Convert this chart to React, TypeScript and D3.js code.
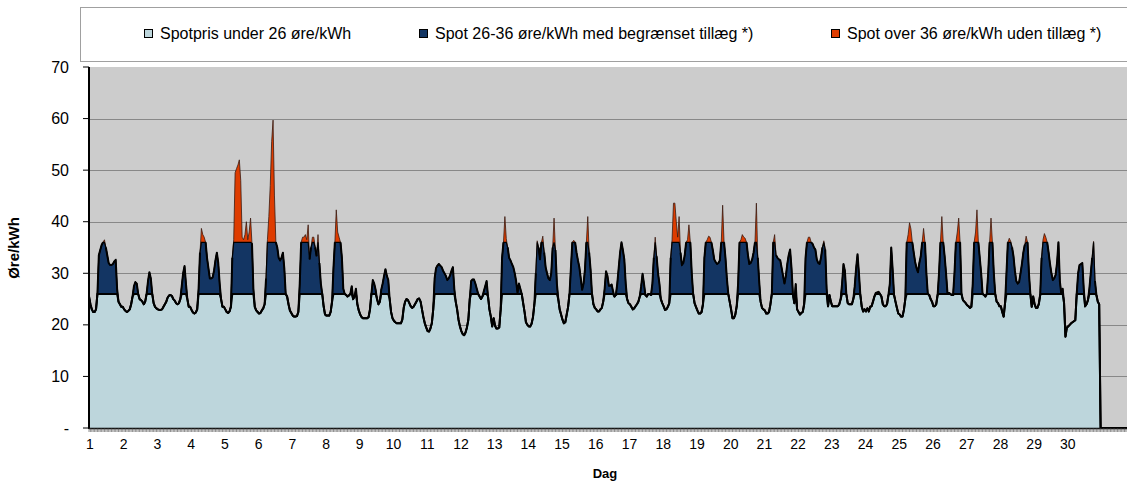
import React, { useEffect, useRef } from "react";
import * as d3 from "d3";

// hourly spot price (øre/kWh), one array per day of the month
const day01 = [25.5,24,23,22.5,22.5,23,26,33.5,34.5,35.5,36,36.5,35,33.5,32,31.6,31.6,31.8,32.3,32.6,27,24.5,24,23.5];
const day02 = [23.5,23,22.7,22.5,22.7,23,24,25.5,27.5,28.3,28,26,25,24.8,24.5,24,24.5,26,28.5,30.2,29,26,24.2,23.5];
const day03 = [23.2,23,22.9,22.9,23,23.5,24,24.5,25.3,25.7,25.8,25.6,25,24.7,24.2,24,24.2,25,27.5,30,31.4,28,25,23.5];
const day04 = [23.5,22.9,22.4,22.2,22.4,23,27,34,38.7,37.5,37,36,33,31,29,29,29.2,30.5,32.5,34,32,28,25,23.5];
const day05 = [23.5,23,22.5,22.3,22.6,23.5,33,36.5,49.5,50.3,51,52,48,37,36.5,37.5,40,36.5,38,40.7,35.8,27,23.5,22.8];
const day06 = [22.5,22.2,22.3,22.8,23.2,24,29,36.5,41,47,55.5,59.7,45,36,35,33,32.5,33,34,31,26,25.5,24,22.8];
const day07 = [22.3,21.8,21.6,21.6,21.7,22.5,28,36,37,37,37.5,36.5,39.4,32.7,35,37,37,35,33.3,37.5,32,28,26,23.6];
const day08 = [22,21.8,21.8,21.8,22.5,24.5,31,36,42.3,38,37,36,33,27,26,25.8,25.5,25.7,26,27.5,25,25.5,27,24];
const day09 = [22.8,22,21.5,21.3,21.3,21.3,21.3,21.5,23,26,28.7,28,26.8,25,24,24.5,26.8,28,29.5,30.8,29.5,28.7,25,22.5];
const day10 = [21.3,20.8,20.5,20.3,20.3,20.3,20.3,21,23.3,24.5,25,24.8,24.2,23.6,23.3,23.5,24,24.5,25,25.1,24.5,23,21.5,20.3];
const day11 = [19.5,18.8,18.7,19.3,20.3,23,29,31,31.5,31.8,31.5,31.2,30.5,30,29.5,28.7,29,29.6,30.5,31.2,27,24.5,23,21];
const day12 = [19.7,18.8,18.2,18,18.5,19.5,21,25,28.5,28.8,28.8,28,27,26,25.5,25,25.5,26.5,27.5,28.5,25.5,23,21.6,19.7];
const day13 = [21.3,19.8,19.3,19.3,19.5,23,33,36,41,36.7,35,33,32.5,31.8,31.2,30,28.5,26.2,28,27,26,24.2,22.5,20.5];
const day14 = [20,19.7,19.7,20.2,21.5,24,30,36.3,35,32.7,36,37.2,34,31.2,30,29,28.7,30,35,40.7,34.5,28,25,23];
const day15 = [22,21,20.3,20.5,22,23.5,26,31,36,36.4,36,34,32.5,31.2,29,26.8,28,30.7,36,41,34,30.7,26,24];
const day16 = [23.3,23,22.6,22.6,23,23.3,24.5,27,30.4,29.5,27.6,27.6,27.8,26.5,25.5,25.8,28,31,34,36,34.5,32.7,28,25];
const day17 = [24.2,24,23.5,23,23.2,23.6,24,24.5,25.5,27.5,29.9,28,25.8,25.5,26,26,25.8,28,33,37,33.3,30,28,25];
const day18 = [24.2,23.6,22.9,23,23.5,24.2,33,36.5,43.6,43.6,40,37,41,34,31.6,32,33.5,36,36.5,39.4,36,30,26,24.2];
const day19 = [23.5,22.8,22.2,22.2,22.5,24,33,36,36.5,37.2,37,36,34.5,32.7,32.2,31.8,32,32.5,36,43.2,36,33,29,26];
const day20 = [24.5,23,21.3,21.3,22,23.6,28,36,36.5,37.5,37,36.8,36,33.5,31.8,32,32.7,34,36,43.6,33,28.5,24.5,23.3];
const day21 = [23,22.8,22.2,22.2,22.5,24,26,36,37.5,33.5,33,32.7,32.5,31,29.5,28,29.5,31.8,33.5,34.6,31,26,24.2,27.9];
const day22 = [23,22.5,22,22.3,22.5,24,33,36,37,37,36,35.7,35,34.6,32.7,32,31.8,33,35,36.3,34.6,27,23.6,25.8];
const day23 = [24.5,23.6,23.6,23.6,23.6,23.6,24,25,28,31.8,30.5,26,24.2,24,24,24,25,27.5,31,33.7,30,25.8,23.5,22.6];
const day24 = [23,22.6,23.2,22.6,23.5,23.6,24.5,25.5,26.2,26.3,26.4,26,25.5,24,23.6,23.6,24,25.8,28,35,30.7,25.8,24.5,23.3];
const day25 = [22.2,22,21.6,21.6,22.9,25,36,37.5,39.8,38.6,36,34,32.2,31,30.2,32,33.3,36,38.7,36,30,26,25.8,25];
const day26 = [24.5,23.6,23.6,24,25.8,30,36,41,36,33.3,30,26.2,26.2,26,25.8,25.8,30,36,38,40.7,36,26,24.8,24.5];
const day27 = [24.2,23.8,23.6,23.3,23.5,28,36,38,42.3,36,33,30,26,25.8,25.5,26,30,36,40.7,36,30,26,24.5,24.2];
const day28 = [23.6,23.6,22.5,21.6,24.2,30,36,36.8,36.2,35,33.3,30.5,28.5,28,28.3,30,31.8,34,35.5,37.2,36,30,26,23.5];
const day29 = [25.5,24,23.3,23.3,24,25.8,33,36.5,37.7,37,36,34,31.8,30,28.7,29,29.7,32,36,28.5,26,27,24.2,17.7];
const day30 = [19.5,19.7,20,20.3,20.5,20.7,20.9,26,30,31.6,31.8,32,27,23.6,24,24.8,27,30,33,36.2,28.5,25.8,24.5,24];
const day31 = [0,0,0,0,0,0,0,0,0,0,0,0,0,0,0,0,0,0,0,0,0,0,0,0];

const days = [day01,day02,day03,day04,day05,day06,day07,day08,day09,day10,day11,day12,day13,day14,day15,
  day16,day17,day18,day19,day20,day21,day22,day23,day24,day25,day26,day27,day28,day29,day30,day31];

const dayLabels = ["1","2","3","4","5","6","7","8","9","10","11","12","13","14","15",
  "16","17","18","19","20","21","22","23","24","25","26","27","28","29","30"];
const yTicks = [0, 10, 20, 30, 40, 50, 60, 70];
const yTickLabels = ["-", "10", "20", "30", "40", "50", "60", "70"];
const legendLabels = [
  "Spotpris under 26 øre/kWh",
  "Spot 26-36 øre/kWh med begrænset tillæg *)",
  "Spot over 36 øre/kWh uden tillæg *)"
];
const bandLow = 26;
const bandHigh = 36;

const colors = ["#BDD6DC", "#133563", "#DE3C00"];
const font = "'Liberation Sans', Arial, sans-serif";

const App = () => {
  const ref = useRef<SVGSVGElement>(null);

  useEffect(() => {
    const svg = d3.select(ref.current);
    svg.selectAll("*").remove();

    const values = days.flat();
    const left = 89, top = 67, bottom = 428, right = 1127;
    const hourPx = 1.405;

    const x = d3.scaleLinear().domain([0, values.length]).range([left, left + values.length * hourPx]);
    const y = d3.scaleLinear().domain([0, 70]).range([bottom, top]);

    // legend box
    const lg = svg.append("g").attr("font-family", font).attr("font-size", 16);
    lg.append("rect").attr("x", 80.5).attr("y", 7.5).attr("width", 1100).attr("height", 54)
      .attr("fill", "#fff").attr("stroke", "#a0a0a0");
    const legendX = [144, 419, 831];
    legendLabels.forEach((t, i) => {
      lg.append("rect").attr("x", legendX[i] + 0.5).attr("y", 29.5).attr("width", 8).attr("height", 8)
        .attr("fill", colors[i]).attr("stroke", "#000");
      lg.append("text").attr("x", legendX[i] + 16).attr("y", 39).attr("fill", "#000").text(t);
    });

    // plot background + grid
    svg.append("rect").attr("x", left).attr("y", top).attr("width", right - left).attr("height", bottom - top)
      .attr("fill", "#CCCCCC");
    svg.append("g").selectAll("line").data(yTicks.filter(v => v > 0 && v < 70)).join("line")
      .attr("x1", left).attr("x2", right)
      .attr("y1", d => Math.round(y(d)) + 0.5).attr("y2", d => Math.round(y(d)) + 0.5)
      .attr("stroke", "#888").attr("stroke-width", 1);

    svg.append("clipPath").attr("id", "plotClip").append("rect")
      .attr("x", left).attr("y", top).attr("width", right - left).attr("height", bottom - top);
    const g = svg.append("g").attr("clip-path", "url(#plotClip)");

    const xi = (_: number, i: number) => x(i);
    const lowArea = d3.area<number>().x(xi).y0(y(0)).y1(d => y(Math.min(d, bandLow)));
    const midArea = d3.area<number>().x(xi).y0(d => y(Math.min(d, bandLow))).y1(d => y(Math.min(d, bandHigh)));
    const highArea = d3.area<number>().x(xi).y0(d => y(Math.min(d, bandHigh))).y1(d => y(d));

    g.append("path").attr("d", lowArea(values)).attr("fill", colors[0]);
    g.append("path").attr("d", midArea(values)).attr("fill", colors[1]);
    g.append("path").attr("d", highArea(values)).attr("fill", colors[2]);

    const line = (cap: number) => d3.line<number>().x(xi).y(d => y(Math.min(d, cap)));
    g.append("path").attr("d", line(999)(values)).attr("fill", "none").attr("stroke", "#3a1a10").attr("stroke-width", 0.8);
    g.append("path").attr("d", line(bandHigh)(values)).attr("fill", "none").attr("stroke", "#000").attr("stroke-width", 1.2);
    g.append("path").attr("d", line(bandLow)(values)).attr("fill", "none").attr("stroke", "#000").attr("stroke-width", 2)
      .attr("stroke-linejoin", "round");
    // thick outline on the part of the price line that is inside the blue bands
    g.append("path").attr("d", d3.line<number>().x(xi).y(d => y(d)).defined(d => d <= bandHigh)(values))
      .attr("fill", "none").attr("stroke", "#000").attr("stroke-width", 2).attr("stroke-linejoin", "round");

    // axes
    const ax = svg.append("g").attr("font-family", font).attr("fill", "#000");
    ax.append("line").attr("x1", left).attr("x2", right).attr("y1", bottom + 0.5).attr("y2", bottom + 0.5)
      .attr("stroke", "#000").attr("stroke-width", 1.5);
    ax.append("line").attr("x1", left).attr("x2", left).attr("y1", top).attr("y2", bottom + 1)
      .attr("stroke", "#000").attr("stroke-width", 2);

    ax.append("g").selectAll("line").data(d3.range(0, values.length + 6)).join("line")
      .attr("x1", d => x(d)).attr("x2", d => x(d)).attr("y1", bottom).attr("y2", bottom + 4)
      .attr("stroke", "#444").attr("stroke-width", 0.6);

    ax.append("g").selectAll("line").data(yTicks).join("line")
      .attr("x1", left - 6).attr("x2", left).attr("y1", d => y(d)).attr("y2", d => y(d))
      .attr("stroke", "#000");
    ax.append("g").selectAll("text").data(yTicks).join("text")
      .attr("x", 69).attr("y", d => y(d)).attr("dy", "0.35em").attr("text-anchor", "end")
      .attr("font-size", 16).text((_, i) => yTickLabels[i]);

    ax.append("g").selectAll("text").data(dayLabels).join("text")
      .attr("x", (_, i) => x(i * 24) + 1).attr("y", 449).attr("text-anchor", "middle")
      .attr("font-size", 14).text(d => d);

    ax.append("text").attr("x", 605).attr("y", 478).attr("text-anchor", "middle")
      .attr("font-size", 13).attr("font-weight", "bold").text("Dag");
    ax.append("text").attr("transform", `translate(19,248) rotate(-90)`).attr("text-anchor", "middle")
      .attr("font-size", 15).attr("font-weight", "bold").text("Øre/kWh");
  }, []);

  return (
    <svg ref={ref} width={1127} height={485}
      style={{ position: "absolute", left: 0, top: 0, background: "#fff", display: "block" }} />
  );
};

export default App;
